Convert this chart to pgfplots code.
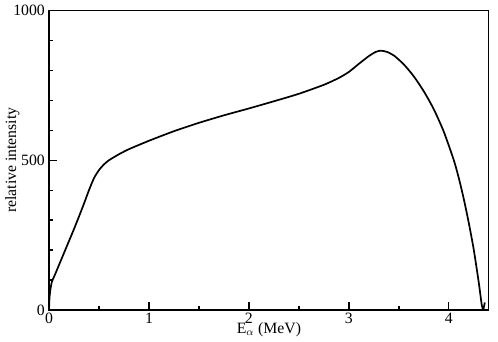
\documentclass[border=0pt]{standalone}
\usepackage{fontspec}
\setmainfont{Liberation Serif}
\usepackage{pgfplots}
\pgfplotsset{compat=1.18}

\begin{document}
\fontsize{12}{14}\selectfont
\begin{tikzpicture}
  \begin{axis}[
    scale only axis,
    width=335pt, height=228pt,
    xmin=0, xmax=4.4,
    ymin=0, ymax=1000,
    xtick={0,1,2,3,4},
    minor x tick num=1,
    ytick={0,500,1000},
    minor y tick num=4,
    tick align=inside,
    xtick pos=lower, ytick pos=lower,
    major tick length=6pt, minor tick length=3pt,
    axis line style={line width=1pt, draw=black},
    every tick/.style={line width=1pt, black},
    tick label style={font=\fontsize{12}{14}\selectfont},
    /pgf/number format/assume math mode=true,
    /pgf/number format/1000 sep={},
    xticklabel style={yshift=2pt},
    yticklabel style={xshift=1pt},
    xlabel={E$_\alpha$ (MeV)},
    ylabel={relative intensity},
    label style={font=\fontsize{12}{14}\selectfont},
    xlabel style={yshift=9pt},
    ylabel style={yshift=-13pt},
    clip=false,
  ]
    \addplot[black, line width=1.3pt, smooth, tension=0.4] coordinates {
      (0,0) (0.005,40) (0.015,70) (0.03,95) (0.06,118) (0.1,150)
      (0.15,190) (0.2,230) (0.25,270) (0.3,312) (0.35,355) (0.4,400)
      (0.45,440) (0.5,467) (0.55,486) (0.6,500) (0.7,520) (0.8,537)
      (1.0,565) (1.25,597) (1.5,625) (1.75,650) (2.0,673) (2.25,697)
      (2.5,722) (2.75,752) (2.9,775) (3.0,795) (3.1,822) (3.2,848)
      (3.27,862) (3.32,866) (3.38,862) (3.45,850) (3.55,820) (3.65,780)
      (3.75,730) (3.85,670) (3.95,595) (4.05,500) (4.1,440) (4.15,370)
      (4.2,290) (4.25,200) (4.3,90) (4.33,15) (4.345,0)
    };
    \addplot[black, line width=1.3pt] coordinates {
      (4.345,0) (4.36,25)
    };
    \draw[black, line width=1pt] (rel axis cs:0,0) rectangle (rel axis cs:1,1);
  \end{axis}
  \path (current axis.north east) ++(7pt,0pt);
\end{tikzpicture}
\end{document}
